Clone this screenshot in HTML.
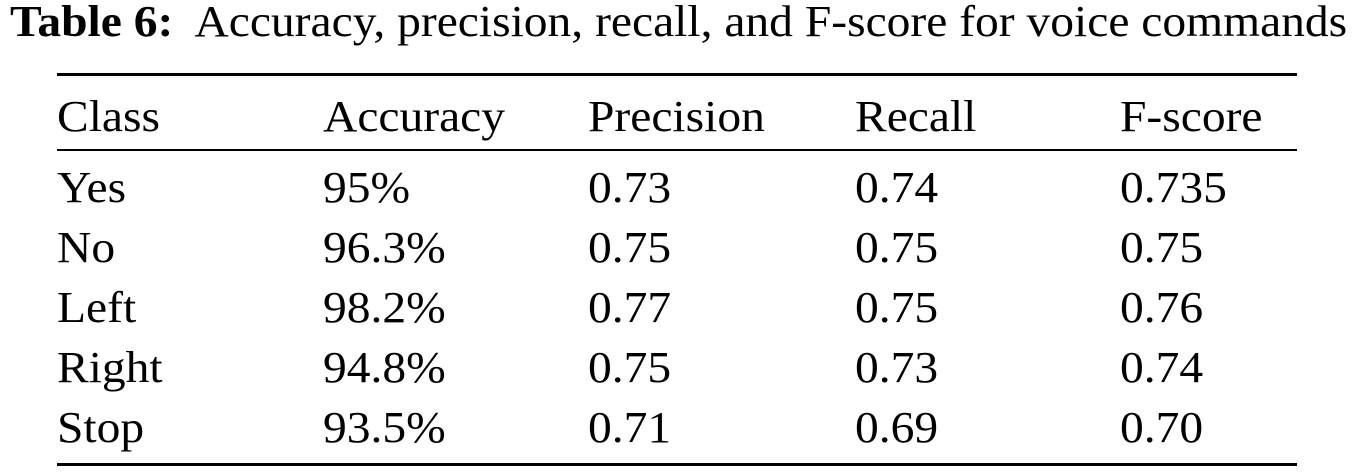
<!DOCTYPE html>
<html><head><meta charset="utf-8"><style>
html,body{margin:0;padding:0;background:#fff;}
body{width:1354px;height:475px;position:relative;overflow:hidden;font-family:"Liberation Serif",serif;color:#000;}
.t{position:absolute;font-size:44px;line-height:44px;white-space:nowrap;transform:scaleX(1.08);transform-origin:0 0;}
.rule{position:absolute;left:57px;width:1240px;background:#000;}
</style></head><body>
<div class="t" style="left:10px;top:0px;"><b>Table 6:</b>&nbsp; Accuracy, precision, recall, and F-score for voice commands</div>
<div class="rule" style="top:73px;height:3px"></div>
<div class="rule" style="top:149px;height:2px"></div>
<div class="rule" style="top:463px;height:3px"></div>
<div id="tbl"></div>
<script>
const cols=[57,323,588,855,1120];
const header=["Class","Accuracy","Precision","Recall","F-score"];
const rows=[
["Yes","95%","0.73","0.74","0.735"],
["No","96.3%","0.75","0.75","0.75"],
["Left","98.2%","0.77","0.75","0.76"],
["Right","94.8%","0.75","0.73","0.74"],
["Stop","93.5%","0.71","0.69","0.70"]];
const tbl=document.getElementById('tbl');
function put(text,x,base,name){
  const d=document.createElement('div');
  d.className='t';
  d.style.left=x+'px';
  d.style.top=(base-36.9)+'px';
  d.textContent=text;
  
  
  tbl.appendChild(d);
}
header.forEach((h,i)=>put(h,cols[i],132,'header-'+h.toLowerCase()));
rows.forEach((r,ri)=>r.forEach((v,ci)=>put(v,cols[ci],203+ri*60,'cell-'+r[0].toLowerCase()+'-'+header[ci].toLowerCase())));
</script>
</body></html>
